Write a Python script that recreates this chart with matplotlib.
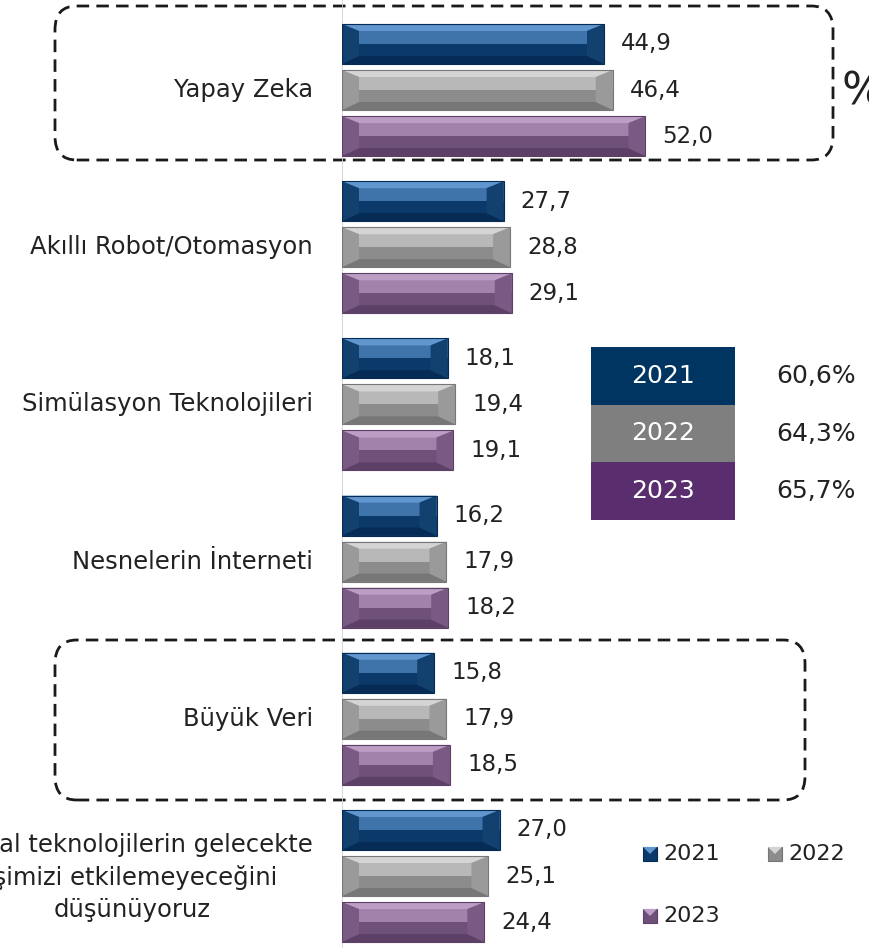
import numpy as np
import matplotlib
matplotlib.use('Agg')
import matplotlib.pyplot as plt
from matplotlib.patches import Polygon, Rectangle, FancyBboxPatch

plt.rcParams['font.family'] = ['DejaVu Sans']

categories = ['Yapay Zeka', 'Akıllı Robot/Otomasyon', 'Simülasyon Teknolojileri',
              'Nesnelerin İnterneti', 'Büyük Veri',
              'Dijital teknolojilerin gelecekte\nişimizi etkilemeyeceğini\ndüşünüyoruz']
years = ['2021', '2022', '2023']
v2021 = [44.9, 27.7, 18.1, 16.2, 15.8, 27.0]
v2022 = [46.4, 28.8, 19.4, 17.9, 17.9, 25.1]
v2023 = [52.0, 29.1, 19.1, 18.2, 18.5, 24.4]
summary = ['60,6%', '64,3%', '65,7%']

# renkler: ust kenar, ust yari, alt yari, yanlar, alt kenar
colors = {
    '2021': ('#6196cf', '#3f74ab', '#0b3969', '#12406f', '#062c55'),
    '2022': ('#d4d4d4', '#b8b8b8', '#8c8c8c', '#9a9a9a', '#777777'),
    '2023': ('#bc9dc4', '#a282aa', '#6f5079', '#7a5a84', '#5c4065'),
}
solid = {'2021': '#003461', '2022': '#7f7f7f', '2023': '#5a2d6e'}
txt = '#222222'

W, H = 869, 948
fig = plt.figure(figsize=(W / 100, H / 100), dpi=100)
ax_left = 342 / W
ax = fig.add_axes([ax_left, 0, 1 - ax_left, 1])
xmax = (W - 342) / 5.835
ax.set_xlim(0, xmax)
ax.set_ylim((H - 90) / 157.2, -90 / 157.2)
ax.axis('off')
ax.set_zorder(2)
ax.patch.set_alpha(0)

px_x = (W - 342) / xmax      # piksel / birim
px_y = 157.2
bx = 17 / px_x
by_top = 7 / px_y
by_bot = 8 / px_y

pitch = 0.293
bh = 0.254
y = np.arange(len(categories))


def bevel_bar(x0, yc, w, h, col):
    edge_t, upper, lower, side, edge_b = col
    y0, y1 = yc - h / 2, yc + h / 2   # y0 ust (eksen ters)
    b = min(bx, w / 3)
    ax.add_patch(Rectangle((x0, y0), w, h, fc=lower, ec='none'))
    ax.add_patch(Rectangle((x0, y0), w, h / 2, fc=upper, ec='none'))
    ax.add_patch(Polygon([(x0, y0), (x0 + w, y0), (x0 + w - b, y0 + by_top), (x0 + b, y0 + by_top)],
                         fc=edge_t, ec='none'))
    ax.add_patch(Polygon([(x0, y1), (x0 + w, y1), (x0 + w - b, y1 - by_bot), (x0 + b, y1 - by_bot)],
                         fc=edge_b, ec='none'))
    for xs, xi in [(x0, x0 + b), (x0 + w, x0 + w - b)]:
        ax.add_patch(Polygon([(xs, y0), (xi, y0 + by_top), (xi, y1 - by_bot), (xs, y1)],
                             fc=side, ec='none'))
    ax.add_patch(Rectangle((x0, y0), w, h, fc='none', ec=edge_b, lw=0.8))


for k, (yr, vals) in enumerate(zip(years, [v2021, v2022, v2023])):
    pos = y + (k - 1) * pitch
    bars = ax.barh(pos, vals, height=bh, color='none')
    for bar, v in zip(bars, vals):
        yc = bar.get_y() + bar.get_height() / 2
        bevel_bar(bar.get_x(), yc, bar.get_width(), bar.get_height(), colors[yr])
        ax.text(v + 17 / px_x, yc, f'{v:.1f}'.replace('.', ','),
                va='center', ha='left', fontsize=16.5, color=txt)

ax.axvline(0, color='#d0d0d0', lw=1.2, zorder=0)

# kategori etiketleri
for i, c in enumerate(categories):
    ax.text(-29 / px_x, i + (0.01 if '\n' in c else 0), c, ha='right', va='center',
            multialignment='center', fontsize=17.5, color=txt, linespacing=1.42, clip_on=False)

# kesikli cerceveler
for (x0, y0, x1, y1) in [(55, 6, 833, 160), (55, 640, 805, 800)]:
    fig.patches.append(FancyBboxPatch((x0 / W, 1 - y1 / H), (x1 - x0) / W, (y1 - y0) / H,
                                      boxstyle='round,pad=0,rounding_size=0.025',
                                      transform=fig.transFigure, fill=False,
                                      ec='#1a1a1a', lw=2.0, ls=(0, (4.5, 2.6))))

fig.text(842 / W, 1 - 92 / H, '%', fontsize=32, va='center', ha='left', color=txt)

# ozet tablo
for k, yr in enumerate(years):
    top = 347 + k * 57.7
    fig.patches.append(Rectangle((591 / W, 1 - (top + 57.7) / H), 144 / W, 57.7 / H,
                                 transform=fig.transFigure, fc=solid[yr], ec='none', zorder=3))
    fig.text(663 / W, 1 - (top + 28.8) / H, yr, color='white', fontsize=18, ha='center', va='center', zorder=4)
    fig.text(776 / W, 1 - (top + 28.8) / H, summary[k], color=txt, fontsize=18, ha='left', va='center')

# alt lejant
for yr, (lx, ly) in zip(years, [(650, 854), (775, 854), (650, 916)]):
    s = 14
    fig.patches.append(Rectangle(((lx - s / 2) / W, 1 - (ly + s / 2) / H), s / W, s / H,
                                 transform=fig.transFigure, fc=colors[yr][2], ec=colors[yr][4], lw=0.8))
    fig.patches.append(Polygon([((lx - s / 2) / W, 1 - (ly - s / 2) / H), ((lx + s / 2) / W, 1 - (ly - s / 2) / H),
                                (lx / W, 1 - ly / H)],
                               transform=fig.transFigure, fc=colors[yr][0], ec='none'))
    fig.text((lx + 13) / W, 1 - ly / H, yr, fontsize=16, ha='left', va='center', color=txt)

fig.savefig('out.png', dpi=100)
